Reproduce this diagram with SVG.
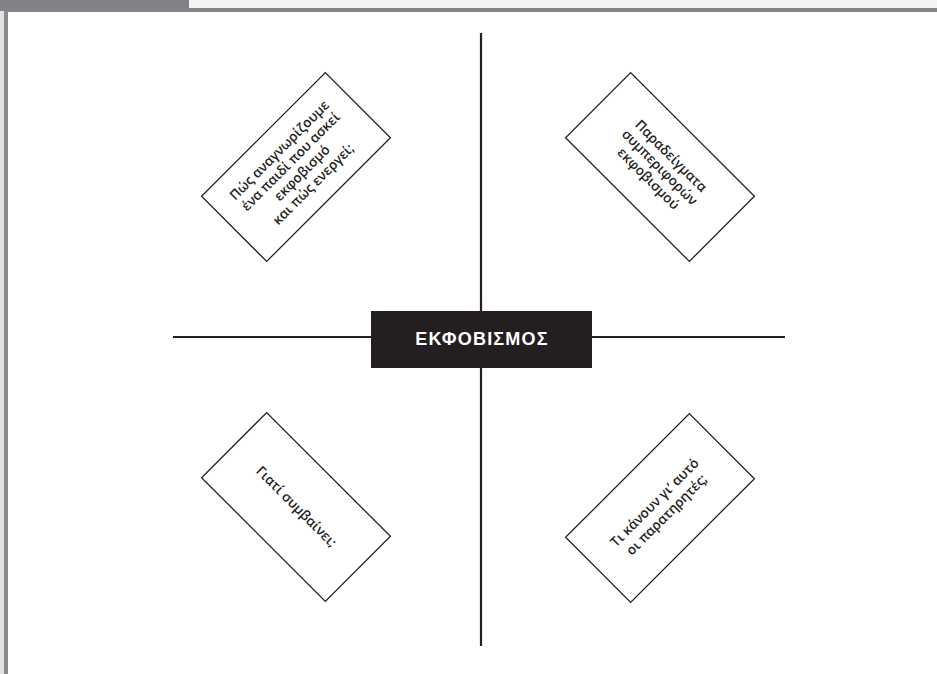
<svg xmlns="http://www.w3.org/2000/svg" width="937" height="674" viewBox="0 0 937 674">
<style>
.ax{stroke:#231f20;stroke-width:2.2;fill:none}
.box{fill:#fff;stroke:#231f20;stroke-width:1.3}
.t{font-family:"Open Sans","Liberation Sans",sans-serif;font-weight:600;font-size:13.5px;fill:#231f20;text-anchor:middle}
.c{font-family:"Liberation Sans","DejaVu Sans",sans-serif;font-weight:700;font-size:18px;fill:#fff;text-anchor:middle;letter-spacing:1.2px}
</style>
<rect width="937" height="674" fill="#fff"/>
<rect x="189" y="0" width="748" height="8" fill="#f4f4f4"/>
<rect x="0" y="0" width="189" height="11" fill="#808184"/>
<rect x="0" y="8" width="937" height="4" fill="#858587"/>
<rect x="0" y="11" width="4" height="663" fill="#e2e2e3"/>
<rect x="4" y="11" width="4" height="663" fill="#8a8a8c"/>
<g id="connectors">
<line class="ax" x1="481" y1="33" x2="481" y2="646"/>
<line class="ax" x1="173" y1="337" x2="785" y2="337"/>
</g>
<g id="center">
<rect x="371" y="311" width="221" height="57" fill="#231f20"/>
<text class="c" x="482" y="345">ΕΚΦΟΒΙΣΜΟΣ</text>
</g>
<g id="n1" transform="translate(296,167) rotate(-45)">
<rect class="box" x="-87.5" y="-46" width="175" height="92"/>
<text class="t" y="-19">Πώς αναγνωρίζουμε</text>
<text class="t" y="-3">ένα παιδί που ασκεί</text>
<text class="t" y="13">εκφοβισμό</text>
<text class="t" y="29">και πώς ενεργεί;</text>
</g>
<g id="n2" transform="translate(660,167) rotate(45)">
<rect class="box" x="-87.5" y="-46" width="175" height="92"/>
<text class="t" y="-11">Παραδείγματα</text>
<text class="t" y="5">συμπεριφορών</text>
<text class="t" y="21">εκφοβισμού</text>
</g>
<g id="n3" transform="translate(296,507) rotate(45)">
<rect class="box" x="-87.5" y="-46" width="175" height="92"/>
<text class="t" y="4">Γιατί συμβαίνει;</text>
</g>
<g id="n4" transform="translate(660,508) rotate(-45)">
<rect class="box" x="-87.5" y="-46" width="175" height="92"/>
<text class="t" y="-3">Τι κάνουν γι’ αυτό</text>
<text class="t" y="14">οι παρατηρητές;</text>
</g>
</svg>
